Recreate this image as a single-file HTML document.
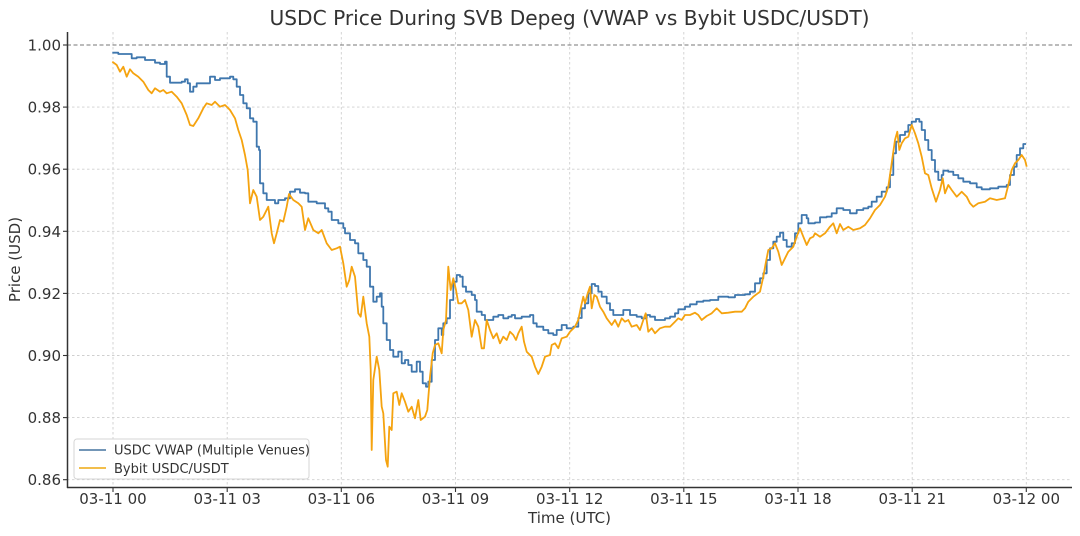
<!DOCTYPE html>
<html>
<head>
<meta charset="utf-8">
<style>
html,body{margin:0;padding:0;background:#fff;}
svg{display:block;}
text{font-family:"DejaVu Sans","Liberation Sans",sans-serif;fill:#333;}
</style>
</head>
<body>
<svg width="1080" height="536" viewBox="0 0 1080 536" xmlns="http://www.w3.org/2000/svg">
<rect width="1080" height="536" fill="#fff"/>
<!-- title -->
<text x="569.5" y="25" font-size="20" text-anchor="middle" textLength="600" lengthAdjust="spacingAndGlyphs">USDC Price During SVB Depeg (VWAP vs Bybit USDC/USDT)</text>

<!-- grid -->
<g stroke="#cfcfcf" stroke-width="0.9" stroke-dasharray="2.5,2.5" fill="none">
<line x1="67" x2="1072" y1="107.1" y2="107.1"/>
<line x1="67" x2="1072" y1="169.2" y2="169.2"/>
<line x1="67" x2="1072" y1="231.3" y2="231.3"/>
<line x1="67" x2="1072" y1="293.4" y2="293.4"/>
<line x1="67" x2="1072" y1="355.5" y2="355.5"/>
<line x1="67" x2="1072" y1="417.6" y2="417.6"/>
<line x1="67" x2="1072" y1="479.7" y2="479.7"/>
<line x1="113" x2="113" y1="32" y2="487"/>
<line x1="227.2" x2="227.2" y1="32" y2="487"/>
<line x1="341.3" x2="341.3" y1="32" y2="487"/>
<line x1="455.5" x2="455.5" y1="32" y2="487"/>
<line x1="569.7" x2="569.7" y1="32" y2="487"/>
<line x1="683.8" x2="683.8" y1="32" y2="487"/>
<line x1="798" x2="798" y1="32" y2="487"/>
<line x1="912.2" x2="912.2" y1="32" y2="487"/>
<line x1="1026.3" x2="1026.3" y1="32" y2="487"/>
</g>
<!-- 1.00 reference line -->
<line x1="67" x2="1072" y1="45" y2="45" stroke="#777" stroke-width="1.1" stroke-dasharray="4,2.5"/>

<!-- VWAP (step) -->
<path fill="none" stroke="#3f77ae" stroke-width="1.8" stroke-linejoin="round" d="M112.3 52.7 H118.3 V54 H131.7 V58.3 H136.7 V57.3 H145 V60 H155 V62.7 H160 V64 H165 V61.7 H166.7 V76.7 H170 V82.7 H181.7 V81.7 H185 V79.3 H187.7 V83.3 H190 V91.7 H193.3 V86.7 H196.7 V83.3 H205 V83.3 H210 V76.7 H215 V80 H220 V78.3 H230 V76.7 H233.3 V79.3 H236.7 V86.7 H240 V95 H243.3 V103.3 H246.7 V108.3 H250 V118.3 H253.3 V121.7 H256.7 V146.7 H259 V150 H260 V183.3 H263.3 V193.3 H266.7 V200 H275 V203.3 H278.3 V200 H285 V198.3 H290 V191.7 H295 V189.3 H300 V192.7 H305 V193.3 H308.3 V201.7 H316.7 V203.3 H325 V208.3 H328.3 V211.7 H331.7 V220 H338.3 V223.3 H343.3 V228 H345 V233.3 H350 V240 H355 V243.3 H358.3 V253.3 H363.3 V260 H366.7 V266.7 H370 V286.7 H373.3 V301.7 H376.7 V296.7 H380 V293.3 H381.7 V306.7 H383.3 V323.3 H386.7 V340 H390 V350 H393.3 V356.7 H398.3 V351.7 H401.7 V363.3 H405 V360 H408.3 V365 H411.7 V371.7 H416.7 V361.7 H420 V371.7 H422.7 V383.3 H426 V386.7 H428.3 V381.7 H431.7 V360 H435 V340 H438.3 V328.3 H441.7 V335 H443.3 V323.3 H446.7 V318.3 H450 V300 H453.3 V281.7 H456.7 V275 H460 V276.7 H462.7 V286.7 H466 V291.7 H471.7 V295 H475 V300 H476.7 V311.7 H481.7 V315 H485 V320 H490 V320 H493.3 V316.7 H498.3 V315 H503.3 V318.3 H508.3 V316.7 H511.7 V315 H515 V318.3 H521.7 V316.7 H530 V315 H533.3 V323.3 H536.7 V326.7 H543.3 V330 H548.3 V333.3 H553.3 V335 H556.7 V330 H561.7 V325 H566.7 V328.3 H573.3 V326.7 H578.3 V318 H581.7 V308.3 H585 V303.3 H588.3 V293.3 H591.7 V284 H595 V286 H598.3 V291.7 H601.7 V296.7 H606.7 V303.3 H610 V310 H613.3 V315 H621.7 V315 H623.3 V310 H628.3 V310 H630 V315 H636.7 V316.7 H641.7 V318.3 H646.7 V315 H650 V316.7 H655 V320 H665 V318.3 H670 V316.7 H675 V313.3 H678.3 V309.3 H685 V306.7 H690 V304.3 H696.7 V301.7 H703.3 V300.7 H710 V300 H718.3 V296.7 H728.3 V297.3 H735 V295 H745 V294.3 H750 V291.7 H755 V283.3 H760 V278.3 H763.3 V273.3 H766.7 V260 H770 V248.3 H773.3 V241.7 H776.7 V236.7 H780 V232.7 H783.3 V240 H786.7 V246.7 H791.7 V243.3 H795 V233.3 H798.3 V223.3 H801.7 V215 H806.7 V218.3 H808.3 V223.3 H815 V222.5 H820 V217.3 H826.7 V216.7 H831.7 V213.3 H836.7 V208.3 H843.3 V210 H850 V213.3 H856.7 V210 H863.3 V208.3 H868.3 V206.7 H871.7 V201.7 H876.7 V196.7 H881.7 V191.7 H886.7 V187.3 H890 V175 H893.3 V153.3 H896 V141.7 H900 V135 H905 V131.7 H908.3 V125 H911.7 V121.7 H916 V119 H919.3 V121.7 H921.7 V130 H925 V140 H928.3 V150 H931.7 V160 H935 V171.7 H938.3 V180 H941.7 V175 H943.3 V170.7 H948.3 V171.7 H953.3 V175 H958.3 V178.3 H963.3 V181.7 H970 V183.3 H976.7 V187.3 H981.7 V189.3 H990 V188.3 H998.3 V186.7 H1006.7 V185 H1010 V175 H1014 V166.7 H1016.7 V155 H1020 V148.3 H1023.3 V144 H1026 V144"/>
<!-- Bybit -->
<polyline fill="none" stroke="#f5a30f" stroke-width="1.8" stroke-linejoin="round" points="112.3,61.7 116.7,65 120,71.7 123.3,66.7 126.7,76.7 130,69.3 133.3,73.3 138.3,76.7 143.3,81.7 148.3,90 151.7,93.3 155,88.3 160,91.7 163.3,90 166.7,93.3 171.7,91.7 176.7,96.7 181.7,103.3 186.7,115 190,125 193.3,126 198.3,118.3 203.3,108.3 206.7,103.3 211.7,105 215,101.7 220,106.7 225,105 230,110 235,118.3 238.3,130 241.7,140 245,155 247.7,170 250,203.3 253.3,190 256.7,196.7 260,220 263.3,216.7 268.3,206.7 271.7,233.3 274,243.3 276.7,233.3 280,220 283.3,221.7 286.7,206.7 289,194 293.3,200 298.3,203.3 301.7,206.7 305,230 308.3,218.3 313.3,230 318.3,233.3 321.7,230 326.7,243.3 331.7,250 336.7,248.3 340,246.7 343.3,263.3 346.7,286.7 349.3,280 351.7,266.7 355,276.7 358.3,313.3 360.7,316.7 363.3,296.7 366.7,323.3 369.3,336.7 370.7,370 371.7,450 373.3,380 376.7,356.7 379.3,370 381.7,406.7 383.3,413.3 386,460 387.7,466.7 389.3,426.7 391.7,430 393.3,393.3 396.7,391.7 399.3,405 401.7,393.3 405,401.7 408.3,411.7 411.7,406.7 415,418.3 418.3,400 420.7,420 425,416.7 427.3,410 430,376.7 432.7,353.3 435,345 438.3,343.3 441.7,353.3 443.3,330 446,320 448.3,266.7 450.7,290 453.3,278.3 456,290 458.3,303.3 461.7,303.3 465,300 468.3,310 471.7,336.7 475,320 478.3,326.7 481.7,348.3 484,348.3 486.7,320 490,330 493.3,338.3 496.7,333.3 500,343.3 503.3,336.7 506.7,340 510,331.7 513.3,335 516,340 518.3,333.3 521.7,326.7 524,341.7 526.7,351.7 531.7,356.7 535,366.7 538.3,374 541.7,366.7 545,356.7 550,355 551.7,345 555,343.3 558.3,348.3 561.7,338.3 566.7,336.7 570,331.7 575,326.7 578.3,320 581,306.7 583.3,296.7 585,303.3 587.7,293.3 590,286.7 591.7,308.3 594.3,295 596.7,296.7 600,306.7 603.3,311.7 606.7,318.3 611.7,325 615,320 618.3,326.7 621.7,318.3 625,321.7 628.3,320 631.7,326.7 636.7,325 640,330 643.3,320 645.7,313.3 648.3,331.7 651.7,328.3 655,333.3 660,328.3 665,326.7 670,326.7 675,321.7 678.3,318.3 681.7,320 685,315 690,315 695,312.7 698.3,315 701.7,320 706.7,316 711.7,313.3 716.7,308.3 721.7,313.3 728.3,312.7 735,311.7 741.7,311.7 745,308.3 748.3,301.7 753.3,296.7 760,291.7 763.3,276.7 765.7,263.3 768.3,250 771.7,248.3 775,243.3 778.3,251.7 781.7,265 785,258.3 788.3,251.7 793.3,246.7 796.7,236.7 800,228.3 803.3,236.7 806.7,245 810,238.3 813.3,236.7 815,233.3 820,236.7 825,233.3 830,226.7 833.3,223.3 836.7,233.3 840,224 843.3,230 848.3,226.7 853.3,230 860,228.3 865,225 870,218.3 875,210 880,205 885,196.7 888.3,186.7 891.7,163.3 895,140 897.3,131.7 899.3,150 901.7,143.3 905,138.3 908.3,136.7 911.7,125 915,133.3 918.3,143.3 921.7,156.7 925,173.3 928.3,175 931.7,188.3 936,201.7 940,190 942.7,178.3 945,193.3 948.3,185 951.7,190 956.7,196.7 961.7,191.7 966.7,196.7 970,203.3 973.3,206.7 978.3,203.3 985,201.7 990,198.3 996.7,200 1005,198.3 1008.3,185 1011.7,170 1015,163.3 1018.3,160 1021.7,155 1025,160 1026.7,166.7"/>

<!-- spines -->
<line x1="67.5" x2="67.5" y1="32" y2="488" stroke="#333" stroke-width="1.5"/>
<line x1="67" x2="1072" y1="487.5" y2="487.5" stroke="#333" stroke-width="1.5"/>

<!-- ticks -->
<g stroke="#333" stroke-width="1.1">
<line x1="63" x2="67" y1="45" y2="45"/>
<line x1="63" x2="67" y1="107.1" y2="107.1"/>
<line x1="63" x2="67" y1="169.2" y2="169.2"/>
<line x1="63" x2="67" y1="231.3" y2="231.3"/>
<line x1="63" x2="67" y1="293.4" y2="293.4"/>
<line x1="63" x2="67" y1="355.5" y2="355.5"/>
<line x1="63" x2="67" y1="417.6" y2="417.6"/>
<line x1="63" x2="67" y1="479.7" y2="479.7"/>
<line x1="113" x2="113" y1="488" y2="492"/>
<line x1="227.2" x2="227.2" y1="488" y2="492"/>
<line x1="341.3" x2="341.3" y1="488" y2="492"/>
<line x1="455.5" x2="455.5" y1="488" y2="492"/>
<line x1="569.7" x2="569.7" y1="488" y2="492"/>
<line x1="683.8" x2="683.8" y1="488" y2="492"/>
<line x1="798" x2="798" y1="488" y2="492"/>
<line x1="912.2" x2="912.2" y1="488" y2="492"/>
<line x1="1026.3" x2="1026.3" y1="488" y2="492"/>
</g>

<!-- y tick labels -->
<g font-size="15" text-anchor="end">
<text x="61" y="50.5">1.00</text>
<text x="61" y="112.6">0.98</text>
<text x="61" y="174.7">0.96</text>
<text x="61" y="236.8">0.94</text>
<text x="61" y="298.9">0.92</text>
<text x="61" y="361">0.90</text>
<text x="61" y="423.1">0.88</text>
<text x="61" y="485.2">0.86</text>
</g>
<!-- x tick labels -->
<g font-size="15" text-anchor="middle">
<text x="113" y="504">03-11 00</text>
<text x="227.2" y="504">03-11 03</text>
<text x="341.3" y="504">03-11 06</text>
<text x="455.5" y="504">03-11 09</text>
<text x="569.7" y="504">03-11 12</text>
<text x="683.8" y="504">03-11 15</text>
<text x="798" y="504">03-11 18</text>
<text x="912.2" y="504">03-11 21</text>
<text x="1026.3" y="504">03-12 00</text>
</g>
<!-- axis labels -->
<text x="569.5" y="523" font-size="15" text-anchor="middle">Time (UTC)</text>
<text transform="translate(20,259.5) rotate(-90)" font-size="15" text-anchor="middle">Price (USD)</text>

<!-- legend -->
<rect x="74" y="439" width="235" height="40" rx="3" fill="#fff" fill-opacity="0.85" stroke="#d6d6d6" stroke-width="1"/>
<line x1="79" x2="106" y1="450" y2="450" stroke="#5f87ad" stroke-width="1.8"/>
<line x1="79" x2="106" y1="468" y2="468" stroke="#f0b432" stroke-width="1.8"/>
<text x="114" y="454.5" font-size="13">USDC VWAP (Multiple Venues)</text>
<text x="114" y="473" font-size="13">Bybit USDC/USDT</text>
</svg>
</body>
</html>
